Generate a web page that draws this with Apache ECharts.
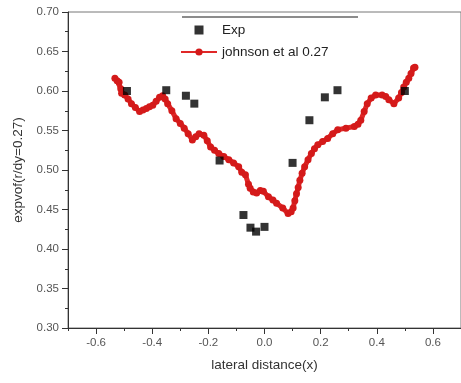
<!DOCTYPE html>
<html><head><meta charset="utf-8">
<script src="https://cdn.jsdelivr.net/npm/echarts@6/dist/echarts.min.js"></script>
<style>html,body{margin:0;padding:0;background:#fff}#c{width:461px;height:383px}</style>
</head><body><div id="c"></div>
<script>
const xTicks = [-0.6, -0.4, -0.2, 0.0, 0.2, 0.4, 0.6];
const xMinorTicks = [-0.7, -0.5, -0.3, -0.1, 0.1, 0.3, 0.5, 0.7];
const expX = [-0.49, -0.35, -0.28, -0.25, -0.16, -0.075, -0.05, -0.03, 0.0, 0.10, 0.16, 0.215, 0.26, 0.50];
const expY = [0.600, 0.601, 0.594, 0.584, 0.512, 0.443, 0.427, 0.422, 0.428, 0.509, 0.563, 0.592, 0.601, 0.600];
const johnX = [-0.533,-0.525,-0.518,-0.512,-0.509,-0.498,-0.486,-0.474,-0.460,-0.445,-0.433,-0.421,-0.410,-0.398,-0.386,-0.374,-0.363,-0.354,-0.345,-0.330,-0.315,-0.300,-0.286,-0.272,-0.257,-0.245,-0.233,-0.216,-0.204,-0.192,-0.178,-0.163,-0.145,-0.127,-0.110,-0.092,-0.081,-0.068,-0.057,-0.051,-0.040,-0.028,-0.015,-0.004,0.014,0.030,0.043,0.065,0.084,0.095,0.102,0.108,0.114,0.120,0.126,0.134,0.143,0.155,0.167,0.178,0.190,0.207,0.225,0.243,0.261,0.290,0.320,0.333,0.343,0.355,0.366,0.380,0.396,0.419,0.432,0.443,0.461,0.478,0.488,0.496,0.505,0.514,0.522,0.531,0.536];
const johnY = [0.616,0.613,0.611,0.603,0.597,0.595,0.590,0.584,0.579,0.574,0.576,0.578,0.580,0.582,0.587,0.592,0.594,0.590,0.584,0.575,0.565,0.559,0.553,0.546,0.538,0.542,0.546,0.544,0.537,0.529,0.525,0.521,0.517,0.513,0.509,0.504,0.497,0.494,0.482,0.477,0.472,0.471,0.474,0.473,0.466,0.462,0.458,0.452,0.445,0.447,0.452,0.461,0.470,0.478,0.487,0.496,0.504,0.513,0.521,0.527,0.532,0.536,0.540,0.546,0.551,0.553,0.555,0.558,0.563,0.574,0.584,0.591,0.595,0.595,0.593,0.589,0.584,0.591,0.598,0.605,0.611,0.616,0.622,0.629,0.630];

const chart = echarts.init(document.getElementById('c'), null, {renderer: 'canvas'});
const fontFam = 'Liberation Sans, Arial, sans-serif';
chart.setOption({
  animation: false,
  backgroundColor: '#fff',
  grid: {left: 68, top: 12, width: 397, bottom: 55, show: true, borderColor: '#777', borderWidth: 1},
  legend: {
    left: 180, top: 23, padding: 0, orient: 'vertical', itemGap: 8, itemWidth: 36, itemHeight: 9,
    symbolKeepAspect: true,
    textStyle: {fontFamily: fontFam, fontSize: 13.5, color: '#222'},
    data: [{name: 'Exp', icon: 'path://M0,0L10,0L10,10L0,10Z'}, {name: 'johnson et al 0.27'}]
  },
  graphic: [{type: 'line', shape: {x1: 182, y1: 17, x2: 358, y2: 17}, style: {stroke: '#666', lineWidth: 1.5}}],
  xAxis: [{
    type: 'value', min: -0.7, max: 0.7, position: 'bottom',
    name: 'lateral distance(x)', nameLocation: 'middle', nameGap: 30,
    nameTextStyle: {fontFamily: fontFam, fontSize: 13.5, color: '#333'},
    axisLine: {show: true, onZero: false, lineStyle: {color: '#333', width: 1}},
    axisTick: {show: true, length: 6, customValues: xTicks, lineStyle: {color: '#333'}},
    axisLabel: {customValues: xTicks, fontFamily: fontFam, fontSize: 11.5, color: '#555', margin: 9,
      formatter: v => v.toFixed(1)},
    splitLine: {show: false}
  }, {
    type: 'value', min: -0.7, max: 0.7, position: 'top', offset: -316,
    axisLine: {show: false, onZero: false},
    axisTick: {show: true, inside: true, length: 3, customValues: xMinorTicks, lineStyle: {color: '#333'}},
    axisLabel: {show: false}, splitLine: {show: false}
  }],
  yAxis: {
    type: 'value', min: 0.30, max: 0.70, interval: 0.05,
    name: 'expvof(r/dy=0.27)', nameLocation: 'middle', nameGap: 43,
    nameTextStyle: {fontFamily: fontFam, fontSize: 13.5, color: '#333'},
    axisLine: {show: true, onZero: false, lineStyle: {color: '#333', width: 1}},
    axisTick: {show: true, length: 6, lineStyle: {color: '#333'}},
    minorTick: {show: true, splitNumber: 2, length: 3, lineStyle: {color: '#333'}},
    axisLabel: {fontFamily: fontFam, fontSize: 11.5, color: '#555', margin: 9, formatter: v => v.toFixed(2)},
    splitLine: {show: false}
  },
  series: [{
    name: 'johnson et al 0.27', type: 'line', xAxisIndex: 0,
    data: johnX.map((x, i) => [x, johnY[i]]),
    symbol: 'circle', symbolSize: 7, showSymbol: true,
    itemStyle: {color: '#d41a1a'},
    lineStyle: {color: '#e02828', width: 5}
  }, {
    name: 'Exp', type: 'scatter', xAxisIndex: 0,
    data: expX.map((x, i) => [x, expY[i]]),
    symbol: 'rect', symbolSize: 8,
    itemStyle: {color: '#000'}, z: 5
  }]
});
</script></body></html>
